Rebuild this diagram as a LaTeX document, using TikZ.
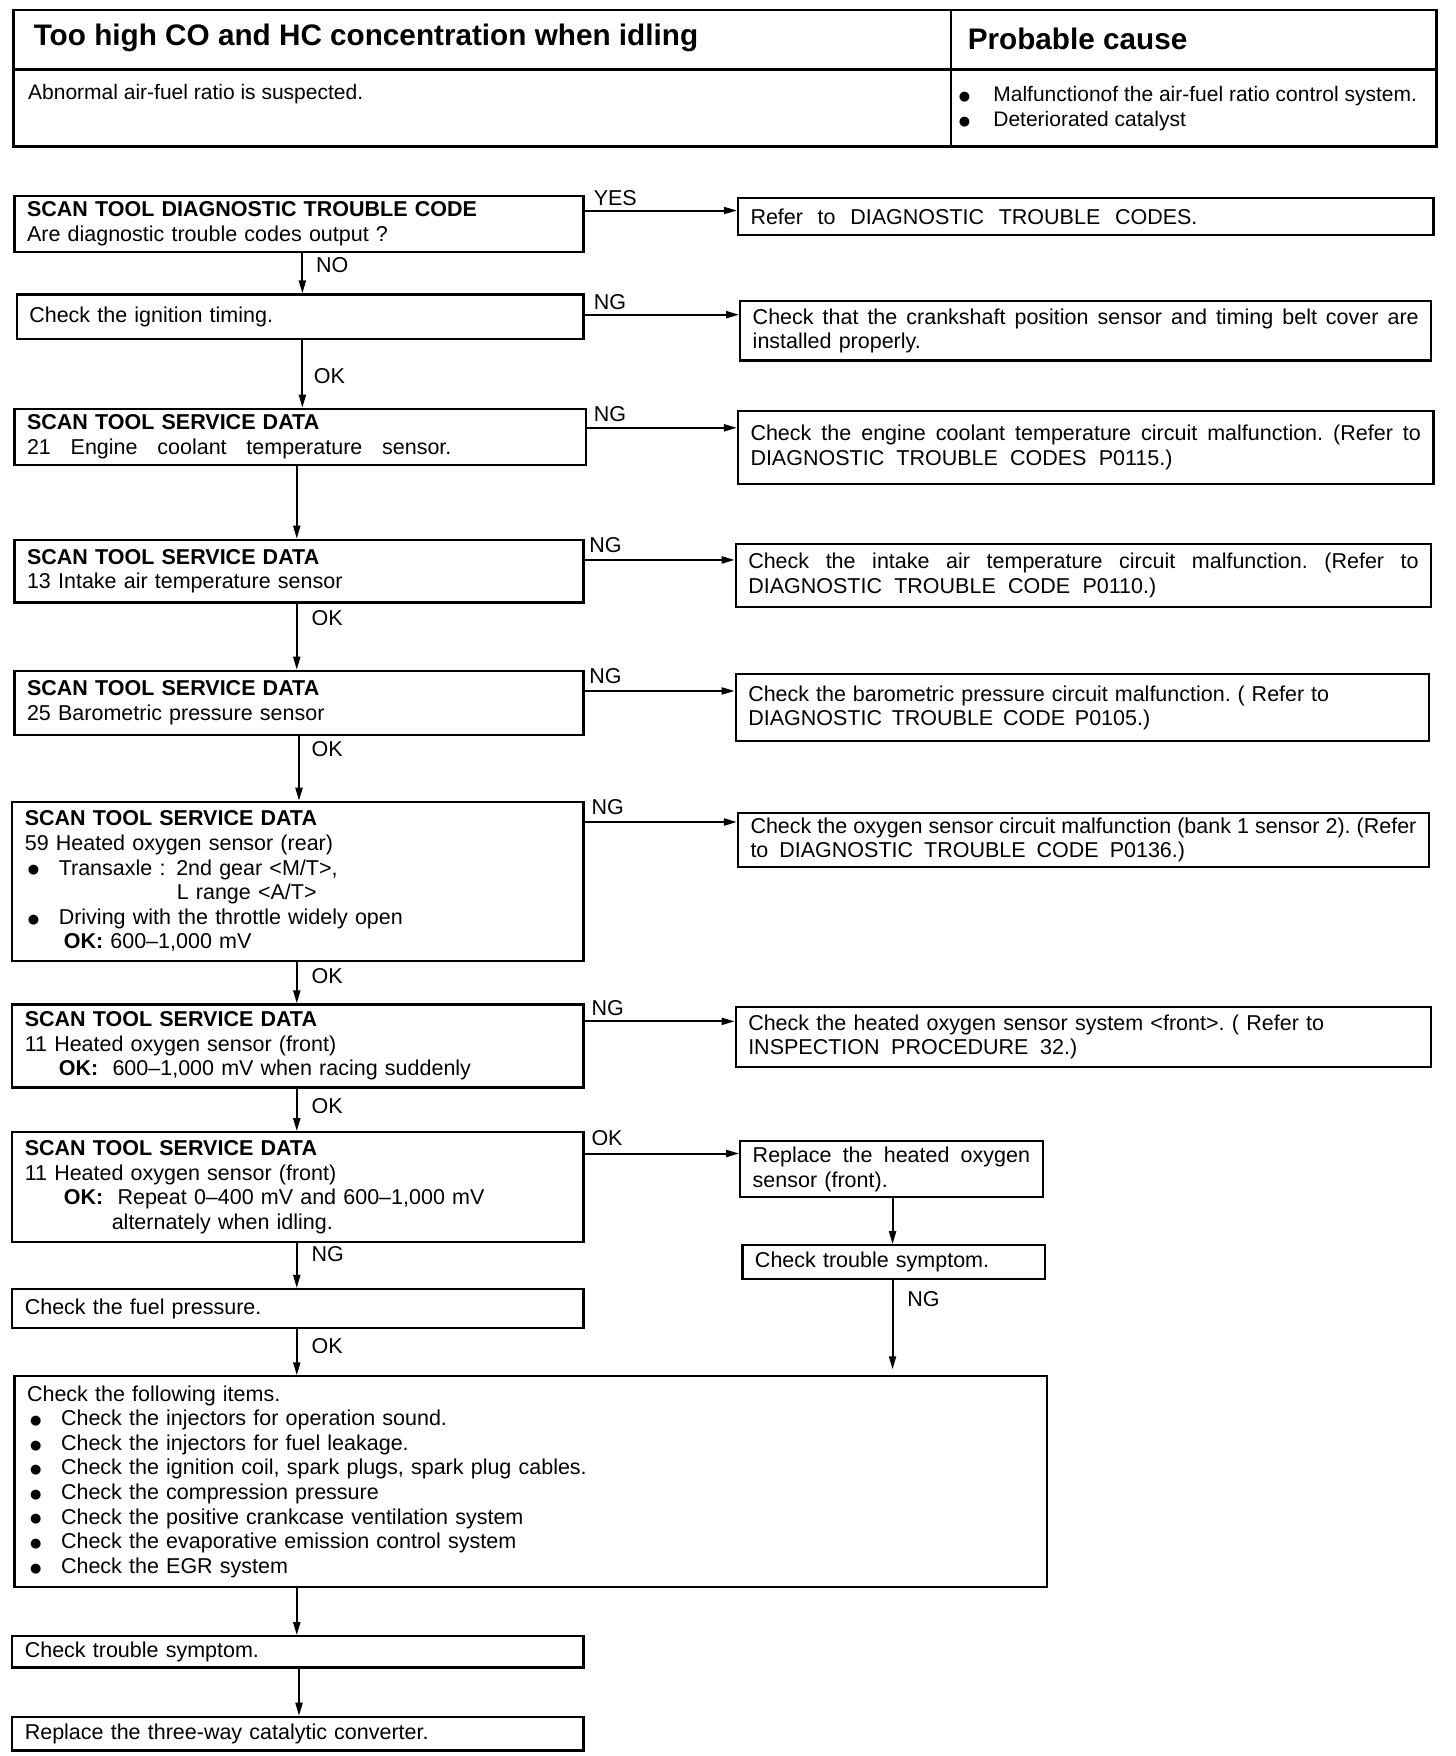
\documentclass[tikz,border=0pt]{standalone}
\usepackage{fontspec}
\setmainfont{Liberation Sans}
\newfontfamily\dvfont{DejaVu Sans}
\usetikzlibrary{arrows.meta}
\newcommand\bigbul{\raisebox{1.2pt}{\dvfont\fontsize{13}{13}\selectfont ●}}
\newcommand\bul{\makebox[34pt][l]{\hspace*{3pt}\bigbul}}
\newcommand\J[2]{{\spaceskip=.278em plus 5em minus .06em\xspaceskip=\spaceskip\makebox[#1][s]{#2}}}
\newcommand\fbx[6]{%
  \pgfmathsetmacro\bw{(#4-#2)*1.12}%
  \pgfmathsetmacro\bh{(#5-#3)*1.12}%
  \pgfmathsetmacro\tw{(#4-#2)*1.12-25}%
  \node[bx, minimum width=\bw pt, minimum height=\bh pt, text width=\tw pt] (#1) at (#2,#3) {#6};}
\tikzset{
  bx/.style={draw, line width=2.2pt, rectangle, anchor=north west, inner xsep=12.5pt, inner ysep=2pt,
    align=left, font=\fontsize{21.5}{24.6}\selectfont},
  arr/.style={line width=2pt, -{Triangle[length=13pt,width=7pt]}},
  lbl/.style={inner sep=0pt, anchor=west, font=\fontsize{21.5}{24.6}\selectfont},
  htxt/.style={inner sep=0pt, anchor=west, font=\fontsize{21}{24}\selectfont},
  hbig/.style={inner sep=0pt, anchor=west, font=\fontsize{29.7}{32}\selectfont\bfseries},
}
\begin{document}
\begin{tikzpicture}[x=1.12pt,y=-1.12pt]
\useasboundingbox (0,0) rectangle (1300,1568);
% header table
\draw[line width=2.8pt] (12,9) rectangle (1283,131);
\draw[line width=2.8pt] (12,62) -- (1283,62);
\draw[line width=1.8pt] (849,9) -- (849,131);
\node[hbig] (title) at (30,34) {Too high CO and HC concentration when idling};
\node[hbig] (cause) at (864,35) {Probable cause};
\node[htxt] (susp) at (25,84) {Abnormal air-fuel ratio is suspected.};
\node[htxt] (hb1) at (856,86) {\makebox[34.5pt][l]{\bigbul}Malfunctionof the air-fuel ratio control system.};
\node[htxt] (hb2) at (856,108) {\makebox[34.5pt][l]{\bigbul}Deteriorated catalyst};

% left column
\fbx{b1}{12}{174}{520}{224}{\textbf{SCAN TOOL DIAGNOSTIC TROUBLE CODE}\\Are diagnostic trouble codes output ?}
\fbx{b2}{14}{262}{520}{302}{Check the ignition timing.}
\fbx{b3}{12}{364}{522}{414}{\textbf{SCAN TOOL SERVICE DATA}\\\J{424.5pt}{21 Engine coolant temperature sensor.}}
\fbx{b4}{12}{481}{520}{537}{\textbf{SCAN TOOL SERVICE DATA}\\13 Intake air temperature sensor}
\fbx{b5}{12}{598}{520}{655}{\textbf{SCAN TOOL SERVICE DATA}\\25 Barometric pressure sensor}
\fbx{b6}{10}{715}{520}{857}{\textbf{SCAN TOOL SERVICE DATA}\\59 Heated oxygen sensor (rear)\\\bul Transaxle : 2nd gear <M/T>,\\\hspace*{152pt}L range <A/T>\\\bul Driving with the throttle widely open\\\hspace*{39pt}\textbf{OK:} 600--1,000 mV}
\fbx{b7}{10}{896}{520}{970}{\textbf{SCAN TOOL SERVICE DATA}\\11 Heated oxygen sensor (front)\\\hspace*{34pt}\textbf{OK:} \ 600--1,000 mV when racing suddenly}
\fbx{b8}{10}{1010}{520}{1108}{\textbf{SCAN TOOL SERVICE DATA}\\11 Heated oxygen sensor (front)\\\hspace*{39pt}\textbf{OK:} \ Repeat 0--400 mV and 600--1,000 mV\\\hspace*{87pt}alternately when idling.}
\fbx{b9}{10}{1150}{520}{1185}{Check the fuel pressure.}
\fbx{b10}{12}{1228}{934}{1416}{Check the following items.\\\bul Check the injectors for operation sound.\\\bul Check the injectors for fuel leakage.\\\bul Check the ignition coil, spark plugs, spark plug cables.\\\bul Check the compression pressure\\\bul Check the positive crankcase ventilation system\\\bul Check the evaporative emission control system\\\bul Check the EGR system}
\fbx{b11}{10}{1460}{520}{1488}{Check trouble symptom.}
\fbx{b12}{10}{1532}{520}{1562}{Replace the three-way catalytic converter.}

% right column
\fbx{r1}{658}{176}{1279}{209}{\J{447pt}{Refer to DIAGNOSTIC TROUBLE CODES.}}
\fbx{r2}{660}{268}{1277}{321}{\J{\linewidth}{Check that the crankshaft position sensor and timing belt cover are}\\installed properly.}
\fbx{r3}{658}{366}{1279}{431}{\J{\linewidth}{Check the engine coolant temperature circuit malfunction. (Refer to}\\\J{422pt}{DIAGNOSTIC TROUBLE CODES P0115.)}}
\fbx{r4}{656}{485}{1277}{541}{\J{\linewidth}{Check the intake air temperature circuit malfunction. (Refer to}\\\J{408pt}{DIAGNOSTIC TROUBLE CODE P0110.)}}
\fbx{r5}{656}{601}{1275}{661}{\J{581pt}{Check the barometric pressure circuit malfunction. ( Refer to}\\\J{402pt}{DIAGNOSTIC TROUBLE CODE P0105.)}}
\fbx{r6}{658}{725}{1275}{773}{\J{\linewidth}{Check the oxygen sensor circuit malfunction (bank 1 sensor 2). (Refer}\\\J{434.6pt}{to DIAGNOSTIC TROUBLE CODE P0136.)}}
\fbx{r7}{656}{898}{1277}{952}{\J{576pt}{Check the heated oxygen sensor system <front>. ( Refer to}\\\J{329pt}{INSPECTION PROCEDURE 32.)}}
\fbx{r8}{660}{1018}{930}{1068}{\J{\linewidth}{Replace the heated oxygen}\\sensor (front).}
\fbx{r9}{662}{1111}{932}{1141}{Check trouble symptom.}

% horizontal connectors
\draw[arr] (b1.east |- 0,188) -- (r1.west |- 0,188);
\draw[arr] (b2.east |- 0,281) -- (r2.west |- 0,281);
\draw[arr] (b3.east |- 0,382) -- (r3.west |- 0,382);
\draw[arr] (b4.east |- 0,500) -- (r4.west |- 0,500);
\draw[arr] (b5.east |- 0,617) -- (r5.west |- 0,617);
\draw[arr] (b6.east |- 0,734) -- (r6.west |- 0,734);
\draw[arr] (b7.east |- 0,912) -- (r7.west |- 0,912);
\draw[arr] (b8.east |- 0,1030) -- (r8.west |- 0,1030);
% vertical connectors
\draw[arr] (b1.south -| 270,0) -- (b2.north -| 270,0);
\draw[arr] (b2.south -| 270,0) -- (b3.north -| 270,0);
\draw[arr] (b3.south -| 265,0) -- (b4.north -| 265,0);
\draw[arr] (b4.south -| 265,0) -- (b5.north -| 265,0);
\draw[arr] (b5.south -| 267,0) -- (b6.north -| 267,0);
\draw[arr] (b6.south -| 265,0) -- (b7.north -| 265,0);
\draw[arr] (b7.south -| 265,0) -- (b8.north -| 265,0);
\draw[arr] (b8.south -| 265,0) -- (b9.north -| 265,0);
\draw[arr] (b9.south -| 265,0) -- (b10.north -| 265,0);
\draw[arr] (b10.south -| 265,0) -- (b11.north -| 265,0);
\draw[arr] (b11.south -| 267,0) -- (b12.north -| 267,0);
\draw[arr] (r8.south -| 797,0) -- (r9.north -| 797,0);
\draw[arr, shorten >=6pt] (r9.south -| 797,0) -- (b10.north -| 797,0);

% labels
\node[lbl] (l1) at (530,177) {YES};
\node[lbl] (l2) at (282,237) {NO};
\node[lbl] (l3) at (530,270) {NG};
\node[lbl] (l4) at (280,336) {OK};
\node[lbl] (l5) at (530,370) {NG};
\node[lbl] (l6) at (526,487) {NG};
\node[lbl] (l7) at (278,552) {OK};
\node[lbl] (l8) at (526,604) {NG};
\node[lbl] (l9) at (278,669) {OK};
\node[lbl] (l10) at (528,721) {NG};
\node[lbl] (l11) at (278,872) {OK};
\node[lbl] (l12) at (528,900) {NG};
\node[lbl] (l13) at (278,988) {OK};
\node[lbl] (l14) at (528,1016) {OK};
\node[lbl] (l15) at (278,1120) {NG};
\node[lbl] (l16) at (810,1160) {NG};
\node[lbl] (l17) at (278,1202) {OK};
\end{tikzpicture}
\end{document}
